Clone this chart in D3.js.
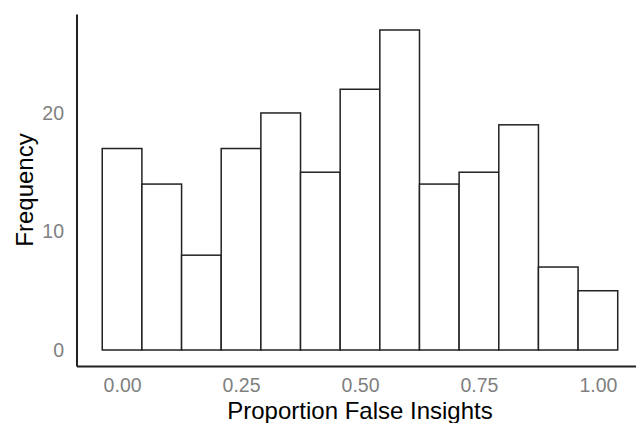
<!DOCTYPE html>
<html><head><meta charset="utf-8">
<script src="https://cdn.jsdelivr.net/npm/d3@7"></script>
<style>body{margin:0;background:#fff}svg{display:block}</style>
</head><body>
<script>
const binStarts = [-0.0417,0.0417,0.125,0.2083,0.2917,0.375,0.4583,0.5417,0.625,0.7083,0.7917,0.875,0.9583];
const binWidth = 1/12;
const counts = [17,14,8,17,20,15,22,27,14,15,19,7,5];
const xTicks = [0,0.25,0.5,0.75,1];
const yTicks = [0,10,20];

const W=636,H=423;
const svg=d3.select("body").append("svg").attr("width",W).attr("height",H);
const x=d3.scaleLinear().domain([-0.0958,1.0958]).range([76.5,643.5]);
const y=d3.scaleLinear().domain([-1.35,28.35]).range([366,14]);

svg.append("g").selectAll("rect").data(counts).join("rect")
 .attr("x",(d,i)=>x(binStarts[i]))
 .attr("width",(d,i)=>x(binStarts[i]+binWidth)-x(binStarts[i]))
 .attr("y",d=>y(d)).attr("height",d=>y(0)-y(d))
 .attr("fill","#fff").attr("stroke","#222").attr("stroke-width",1.5);

const font="Liberation Sans, Arial, sans-serif";
const xa=svg.append("g").attr("transform",`translate(0,${y.range()[0]})`)
 .call(d3.axisBottom(x).tickValues(xTicks).tickFormat(d3.format(".2f")).tickSize(0).tickPadding(12));
const ya=svg.append("g").attr("transform",`translate(${x.range()[0]},0)`)
 .call(d3.axisLeft(y).tickValues(yTicks).tickSize(0).tickPadding(12.5));
[xa,ya].forEach(g=>{
 g.attr("font-size",null).attr("font-family",null);
 g.select(".domain").attr("stroke","#222").attr("stroke-width",2);
 g.selectAll("text").attr("fill","#7f7f7f").style("font-size","19.5px").style("font-family",font);
});
svg.append("text").attr("x",x(0.5)).attr("y",419).attr("text-anchor","middle")
 .style("font-family",font).style("font-size","24px").attr("fill","#000").text("Proportion False Insights");
svg.append("text").attr("transform",`translate(33,${y(13.5)}) rotate(-90)`).attr("text-anchor","middle")
 .style("font-family",font).style("font-size","24px").attr("fill","#000").text("Frequency");
</script>
</body></html>
